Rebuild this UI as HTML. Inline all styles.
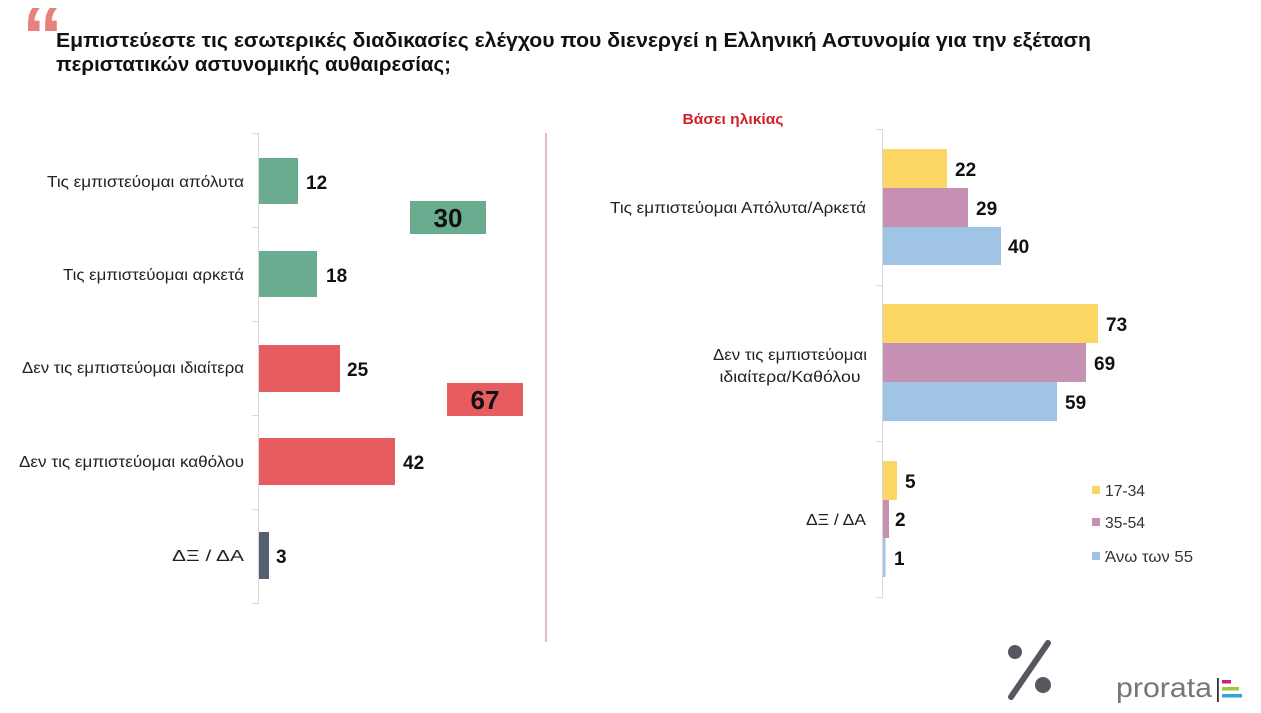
<!DOCTYPE html>
<html>
<head>
<meta charset="utf-8">
<style>
html,body{margin:0;padding:0;background:#fff;}
svg{display:block;}
text{font-family:"Liberation Sans","DejaVu Sans",sans-serif;}
</style>
</head>
<body>
<svg width="1261" height="713" viewBox="0 0 1261 713" xmlns="http://www.w3.org/2000/svg">
<rect width="1261" height="713" fill="#fff"/>

<!-- quote mark -->
<text x="22" y="64" font-family="Liberation Sans, sans-serif" font-weight="bold" font-size="82" fill="#e8807d">“</text>

<!-- title -->
<text x="56" y="47" font-size="20" font-weight="bold" fill="#111" textLength="1035" lengthAdjust="spacingAndGlyphs">Εμπιστεύεστε τις εσωτερικές διαδικασίες ελέγχου που διενεργεί η Ελληνική Αστυνομία για την εξέταση</text>
<text x="56" y="71" font-size="20" font-weight="bold" fill="#111" textLength="395" lengthAdjust="spacingAndGlyphs">περιστατικών αστυνομικής αυθαιρεσίας;</text>

<!-- left axis -->
<line x1="258.5" y1="133" x2="258.5" y2="604" stroke="#d9d9d9" stroke-width="1"/>
<g stroke="#d9d9d9" stroke-width="1">
<line x1="252" y1="133.5" x2="258" y2="133.5"/>
<line x1="252" y1="227.5" x2="258" y2="227.5"/>
<line x1="252" y1="321.5" x2="258" y2="321.5"/>
<line x1="252" y1="415.5" x2="258" y2="415.5"/>
<line x1="252" y1="509.5" x2="258" y2="509.5"/>
<line x1="252" y1="603.5" x2="258" y2="603.5"/>
</g>

<!-- left labels -->
<g font-size="15.5" fill="#222" text-anchor="end">
<text x="244" y="187" textLength="197" lengthAdjust="spacingAndGlyphs">Τις εμπιστεύομαι απόλυτα</text>
<text x="244" y="280" textLength="181" lengthAdjust="spacingAndGlyphs">Τις εμπιστεύομαι αρκετά</text>
<text x="244" y="373" textLength="222" lengthAdjust="spacingAndGlyphs">Δεν τις εμπιστεύομαι ιδιαίτερα</text>
<text x="244" y="467" textLength="225" lengthAdjust="spacingAndGlyphs">Δεν τις εμπιστεύομαι καθόλου</text>
<text x="244" y="561" textLength="72" lengthAdjust="spacingAndGlyphs">ΔΞ / ΔΑ</text>
</g>

<!-- left bars -->
<rect x="259" y="158" width="39" height="46" fill="#6aac8f"/>
<rect x="259" y="251" width="58" height="46" fill="#6aac8f"/>
<rect x="259" y="345" width="81" height="47" fill="#e65c5f"/>
<rect x="259" y="438" width="136" height="47" fill="#e65c5f"/>
<rect x="259" y="532" width="10" height="47" fill="#56606f"/>
<rect x="410" y="201" width="76" height="33" fill="#6aac8f"/>
<rect x="447" y="383" width="76" height="33" fill="#e65c5f"/>

<!-- left values -->
<g font-size="19" font-weight="bold" fill="#111">
<text x="306" y="189">12</text>
<text x="326" y="282">18</text>
<text x="347" y="376">25</text>
<text x="403" y="469">42</text>
<text x="276" y="563">3</text>
</g>
<g font-size="26" font-weight="bold" fill="#111" text-anchor="middle">
<text x="448" y="227">30</text>
<text x="485" y="409">67</text>
</g>

<!-- divider -->
<line x1="546" y1="133" x2="546" y2="642" stroke="#dba5a5" stroke-width="1.5"/>

<!-- right heading -->
<text x="733" y="124" font-size="15" font-weight="bold" fill="#d0202a" text-anchor="middle" textLength="101" lengthAdjust="spacingAndGlyphs">Βάσει ηλικίας</text>

<!-- right axis -->
<line x1="882.5" y1="129" x2="882.5" y2="598" stroke="#d9d9d9" stroke-width="1"/>
<g stroke="#d9d9d9" stroke-width="1">
<line x1="876" y1="129.5" x2="882" y2="129.5"/>
<line x1="876" y1="285.5" x2="882" y2="285.5"/>
<line x1="876" y1="441.5" x2="882" y2="441.5"/>
<line x1="876" y1="597.5" x2="882" y2="597.5"/>
</g>

<!-- right labels -->
<g font-size="15.5" fill="#222">
<text x="866" y="213" text-anchor="end" textLength="256" lengthAdjust="spacingAndGlyphs">Τις εμπιστεύομαι Απόλυτα/Αρκετά</text>
<text x="790" y="360" text-anchor="middle" textLength="154" lengthAdjust="spacingAndGlyphs">Δεν τις εμπιστεύομαι</text>
<text x="790" y="382" text-anchor="middle" textLength="141" lengthAdjust="spacingAndGlyphs">ιδιαίτερα/Καθόλου</text>
<text x="866" y="525" text-anchor="end" textLength="60" lengthAdjust="spacingAndGlyphs">ΔΞ / ΔΑ</text>
</g>

<!-- right bars -->
<rect x="883" y="149" width="64" height="39" fill="#fdd766"/>
<rect x="883" y="188" width="85" height="39" fill="#c690b2"/>
<rect x="883" y="227" width="118" height="38" fill="#9fc4e6"/>
<rect x="883" y="304" width="215" height="39" fill="#fdd766"/>
<rect x="883" y="343" width="203" height="39" fill="#c690b2"/>
<rect x="883" y="382" width="174" height="39" fill="#9fc4e6"/>
<rect x="883" y="461" width="14" height="39" fill="#fdd766"/>
<rect x="883" y="500" width="6" height="38" fill="#c690b2"/>
<rect x="883" y="538" width="2.5" height="39" fill="#9fc4e6"/>

<!-- right values -->
<g font-size="19" font-weight="bold" fill="#111">
<text x="955" y="176">22</text>
<text x="976" y="215">29</text>
<text x="1008" y="253">40</text>
<text x="1106" y="331">73</text>
<text x="1094" y="370">69</text>
<text x="1065" y="409">59</text>
<text x="905" y="488">5</text>
<text x="895" y="526">2</text>
<text x="894" y="565">1</text>
</g>

<!-- legend -->
<rect x="1092" y="486" width="8" height="8" fill="#fdd766"/>
<rect x="1092" y="518" width="8" height="8" fill="#c690b2"/>
<rect x="1092" y="552" width="8" height="8" fill="#9fc4e6"/>
<g font-size="16" fill="#333">
<text x="1105" y="496" textLength="40" lengthAdjust="spacingAndGlyphs">17-34</text>
<text x="1105" y="528" textLength="40" lengthAdjust="spacingAndGlyphs">35-54</text>
<text x="1105" y="562" textLength="88" lengthAdjust="spacingAndGlyphs">Άνω των 55</text>
</g>

<!-- logo percent -->
<g fill="#55595f" stroke="#55595f">
<circle cx="1015" cy="652" r="7" stroke="none"/>
<circle cx="1043" cy="685" r="8" stroke="none"/>
<line x1="1048" y1="643" x2="1011" y2="697" stroke-width="6" stroke-linecap="round"/>
</g>

<!-- prorata -->
<text x="1116" y="697" font-size="28" fill="#777" textLength="96" lengthAdjust="spacingAndGlyphs">prorata</text>
<rect x="1217" y="678" width="1.8" height="24" fill="#333"/>
<rect x="1222" y="680" width="9" height="3.5" fill="#c8207f"/>
<rect x="1222" y="687" width="17" height="3.5" fill="#9cc83c"/>
<rect x="1222" y="694" width="20" height="3.5" fill="#34a4d8"/>
</svg>
</body>
</html>
